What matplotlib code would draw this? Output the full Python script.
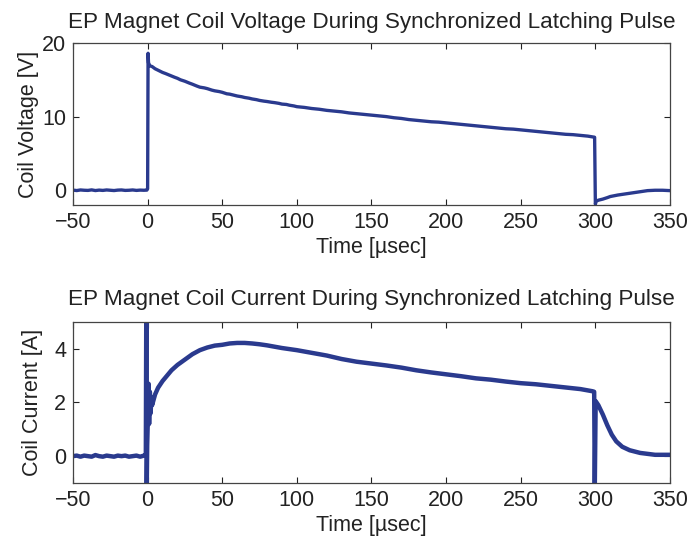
import matplotlib
matplotlib.use("Agg")
import matplotlib.pyplot as plt

plt.rcParams['font.family'] = ['Liberation Sans', 'DejaVu Sans']

# ---- Voltage trace (time in usec, volts) ----
v_time = [-50, -47.5, -45, -42.5, -40, -37.5, -35, -32.5, -30, -27.5, -25, -22.5, -20,
          -17.5, -15, -12.5, -10, -7.5, -5, -2.5, -0.5, 0.0, 0.3, 0.6, 1.5, 3, 5, 8, 10,
          12, 15, 18, 20, 22, 25, 28, 30, 33, 35, 38, 40, 43, 45, 48, 50, 53, 55, 58, 60,
          63, 65, 68, 70, 73, 75, 78, 80, 83, 85, 88, 90, 93, 95, 98, 100, 105, 110, 115,
          120, 125, 130, 135, 140, 145, 150, 155, 160, 165, 170, 175, 180, 185, 190, 195,
          200, 205, 210, 215, 220, 225, 230, 235, 240, 245, 250, 255, 260, 265, 270, 275,
          280, 285, 290, 295, 299.5, 300.0, 300.5, 302, 305, 308, 310, 315, 320, 325, 330,
          335, 340, 345, 350]
v_volt = [0.02, -0.04, 0.04, 0.0, -0.02, 0.05, -0.04, 0.02, -0.02, 0.04, 0.0, -0.04, 0.02,
          0.04, -0.02, 0.0, 0.04, -0.02, 0.02, 0.0, 0.02, 0.2, 18.6, 17.3, 16.9, 16.8, 16.5,
          16.2, 16.0, 15.85, 15.6, 15.35, 15.2, 15.0, 14.8, 14.55, 14.4, 14.15, 14.0, 13.9,
          13.8, 13.6, 13.5, 13.4, 13.3, 13.1, 13.05, 12.9, 12.8, 12.7, 12.6, 12.5, 12.4,
          12.3, 12.2, 12.1, 12.05, 11.95, 11.9, 11.8, 11.7, 11.65, 11.55, 11.45, 11.35,
          11.25, 11.1, 11.0, 10.85, 10.75, 10.65, 10.5, 10.4, 10.3, 10.2, 10.1, 10.0, 9.85,
          9.75, 9.6, 9.5, 9.4, 9.3, 9.25, 9.15, 9.05, 8.95, 8.85, 8.75, 8.65, 8.55, 8.45,
          8.35, 8.3, 8.2, 8.1, 8.0, 7.9, 7.8, 7.7, 7.6, 7.55, 7.45, 7.35, 7.2, -1.9, -1.5,
          -1.35, -1.2, -1.0, -0.85, -0.65, -0.5, -0.35, -0.2, -0.05, 0.0, 0.0, -0.05]

# ---- Current trace (time in usec, amps) ----
i_time = [-50, -47.5, -45, -42.5, -40, -37.5, -35, -32.5, -30, -27.5, -25, -22.5, -20,
          -17.5, -15, -12.5, -10, -7.5, -5, -2.5, -1.2, -0.9, -0.6, -0.3, 0.2, 0.6, 1.0,
          1.5, 2.0, 2.5, 3, 4, 5, 7, 10, 13, 16, 20, 25, 30, 35, 40, 45, 50, 55, 60, 65,
          70, 75, 80, 90, 100, 110, 120, 130, 140, 150, 160, 170, 180, 190, 200, 210, 220,
          230, 240, 250, 260, 270, 280, 290, 298, 299.2, 299.6, 300.2, 302, 305, 308, 311,
          314, 318, 323, 330, 340, 350]
i_amp = [0.0, 0.02, -0.02, 0.02, 0.0, -0.02, 0.04, 0.0, -0.02, 0.02, 0.0, -0.02, 0.02,
         0.0, 0.02, -0.02, 0.0, 0.02, -0.02, 0.02, 0.05, 5.5, -1.2, 0.4, 1.5, 2.7, 1.2,
         2.4, 1.6, 2.2, 1.9, 2.1, 2.3, 2.55, 2.8, 3.0, 3.2, 3.4, 3.6, 3.8, 3.95, 4.05,
         4.12, 4.15, 4.2, 4.22, 4.22, 4.2, 4.17, 4.13, 4.03, 3.95, 3.85, 3.75, 3.62, 3.52,
         3.45, 3.38, 3.3, 3.2, 3.12, 3.05, 2.98, 2.9, 2.85, 2.78, 2.72, 2.68, 2.62, 2.56,
         2.5, 2.42, 2.4, -1.2, 2.05, 1.9, 1.55, 1.15, 0.8, 0.55, 0.35, 0.22, 0.12, 0.05,
         0.05]

x_ticks = [-50, 0, 50, 100, 150, 200, 250, 300, 350]
v_ticks = [0, 10, 20]
i_ticks = [0, 2, 4]

line_color = '#2a3a8e'
text_color = '#222222'
fs = 15.5
fs_title = 16.2

fig = plt.figure(figsize=(6.9, 5.42), dpi=100)
ax1 = fig.add_axes([0.1058, 0.6218, 0.8652, 0.2989])
ax2 = fig.add_axes([0.1058, 0.1089, 0.8652, 0.2970])

def style(ax):
    ax.set_xlim(-50, 350)
    ax.set_xticks(x_ticks)
    ax.tick_params(direction='in', length=4, width=0.8, top=True, right=True,
                   labelsize=fs, colors=text_color, pad=5)
    for s in ax.spines.values():
        s.set_color('#444444')
        s.set_linewidth(0.9)
    ax.set_xlabel('Time [µsec]', fontsize=fs, color=text_color, labelpad=3)

ax1.plot(v_time, v_volt, color=line_color, lw=2.4)
style(ax1)
ax1.set_ylim(-2, 20)
ax1.set_yticks(v_ticks)
ax1.set_ylabel('Coil Voltage [V]', fontsize=fs, color=text_color, labelpad=2)
ax1.set_title('EP Magnet Coil Voltage During Synchronized Latching Pulse',
              fontsize=fs_title, color=text_color, pad=11)

ax2.plot(i_time, i_amp, color=line_color, lw=3.2)
style(ax2)
ax2.set_ylim(-1, 5)
ax2.set_yticks(i_ticks)
ax2.set_ylabel('Coil Current [A]', fontsize=fs, color=text_color, labelpad=8)
ax2.set_title('EP Magnet Coil Current During Synchronized Latching Pulse',
              fontsize=fs_title, color=text_color, pad=12)

fig.savefig('out.png', dpi=100)
